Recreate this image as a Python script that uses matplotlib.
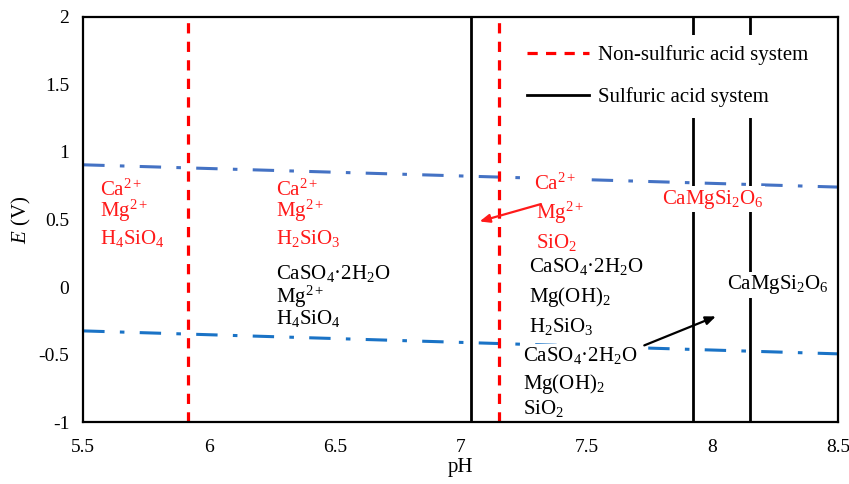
import matplotlib
matplotlib.use("Agg")
import matplotlib.pyplot as plt

plt.rcParams['font.family'] = ['Liberation Serif', 'DejaVu Serif']
plt.rcParams['mathtext.fontset'] = 'custom'
plt.rcParams['mathtext.rm'] = 'Liberation Serif'
plt.rcParams['mathtext.it'] = 'Liberation Serif:italic'

# ---- data ----
ph_range = [5.5, 8.5]
upper_E = [0.905, 0.74]      # upper water-stability boundary (dash-dot)
lower_E = [-0.325, -0.495]   # lower boundary
nonsulf_ph = [5.915, 7.153]  # red dashed boundaries
sulf_ph = [7.04, 7.925, 8.15]  # black boundaries

RED = '#ff1a1a'
FS = 15

fig = plt.figure(figsize=(8.49, 4.84), dpi=100)
ax = fig.add_axes([0.098, 0.128, 0.889, 0.837])

ax.plot(ph_range, upper_E, color='#4472c4', lw=2.2, dashes=(7, 5, 1.5, 5), zorder=1)
ax.plot(ph_range, lower_E, color='#1a73c6', lw=2.2, dashes=(7, 5, 1.5, 5), zorder=1)

for i, x in enumerate(nonsulf_ph):
    ax.axvline(x, color='red', lw=2.3, dashes=(3.2, 2.6), zorder=2,
               label='Non-sulfuric acid system' if i == 0 else None)
for i, x in enumerate(sulf_ph):
    ax.axvline(x, color='black', lw=2.0, zorder=2,
               label='Sulfuric acid system' if i == 0 else None)

ax.set_xlim(*ph_range)
ax.set_ylim(-1, 2)
ax.set_xticks([5.5, 6, 6.5, 7, 7.5, 8, 8.5])
ax.set_xticklabels(['5.5', '6', '6.5', '7', '7.5', '8', '8.5'])
ax.set_yticks([-1, -0.5, 0, 0.5, 1, 1.5, 2])
ax.set_yticklabels(['-1', '-0.5', '0', '0.5', '1', '1.5', '2'])
ax.tick_params(length=0, labelsize=14, pad=12)
ax.tick_params(axis='y', pad=10)
for s in ax.spines.values():
    s.set_linewidth(1.6)
ax.set_xlabel('pH', fontsize=15, labelpad=2)
ax.set_ylabel('$E$ (V)', fontsize=15, labelpad=4)

white = dict(facecolor='white', edgecolor='none', pad=1)

def txt(x, y, s, c='black', box=False):
    ax.text(x, y, s, color=c, fontsize=FS, va='center', ha='left', zorder=4,
            bbox=white if box else None)

# left region
txt(5.565, 0.72, 'Ca$^{2+}$', RED)
txt(5.565, 0.56, 'Mg$^{2+}$', RED)
txt(5.565, 0.36, 'H$_4$SiO$_4$', RED)
# middle region
txt(6.265, 0.72, 'Ca$^{2+}$', RED)
txt(6.265, 0.56, 'Mg$^{2+}$', RED)
txt(6.265, 0.36, 'H$_2$SiO$_3$', RED)
txt(6.265, 0.10, 'CaSO$_4$·2H$_2$O', 'black')
txt(6.265, -0.07, 'Mg$^{2+}$', 'black')
txt(6.265, -0.23, 'H$_4$SiO$_4$', 'black')
# right region
txt(7.29, 0.76, 'Ca$^{2+}$', RED, box=True)
txt(7.30, 0.55, 'Mg$^{2+}$', RED)
txt(7.30, 0.33, 'SiO$_2$', RED)
txt(7.27, 0.155, 'CaSO$_4$·2H$_2$O', 'black')
txt(7.27, -0.075, 'Mg(OH)$_2$', 'black')
txt(7.27, -0.29, 'H$_2$SiO$_3$', 'black')
txt(7.25, -0.51, 'CaSO$_4$·2H$_2$O', 'black', box=True)
txt(7.25, -0.72, 'Mg(OH)$_2$', 'black')
txt(7.25, -0.90, 'SiO$_2$', 'black')
txt(7.80, 0.65, 'CaMgSi$_2$O$_6$', RED, box=True)
txt(8.06, 0.015, 'CaMgSi$_2$O$_6$', 'black', box=True)

ax.annotate('', xy=(7.065, 0.48), xytext=(7.33, 0.62),
            arrowprops=dict(arrowstyle='-|>,head_length=0.6,head_width=0.25',
                            color=RED, lw=1.6), zorder=5)
ax.annotate('', xy=(8.025, -0.21), xytext=(7.72, -0.44),
            arrowprops=dict(arrowstyle='-|>,head_length=0.6,head_width=0.25',
                            color='black', lw=1.6), zorder=5)

leg = ax.legend(loc='upper right', bbox_to_anchor=(0.975, 0.955), fontsize=15,
                frameon=True, edgecolor='none', facecolor='white', framealpha=1,
                fancybox=False, handlelength=3.0, labelspacing=1.05,
                borderaxespad=0, borderpad=0.5, handletextpad=0.45)
leg.set_zorder(6)

fig.savefig('out.png', dpi=100)
